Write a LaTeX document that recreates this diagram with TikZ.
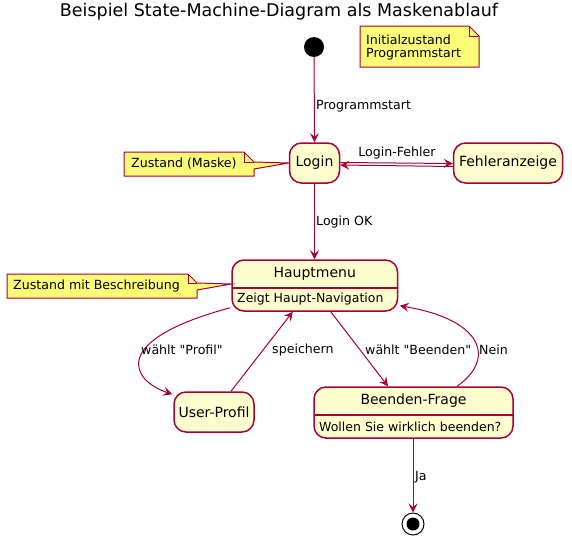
\documentclass[tikz,border=0pt]{standalone}
\usepackage{fontspec}
\setmainfont{DejaVu Sans}
\newfontfamily\plainfont{DejaVu Sans}
\usetikzlibrary{arrows.meta,calc}
\definecolor{pbord}{HTML}{A80036}
\definecolor{pstate}{HTML}{FEFECE}
\definecolor{pnote}{HTML}{FBFB77}
\begin{document}
\begin{tikzpicture}[x=1pt,y=-1pt,
 statebox/.style={draw=pbord,fill=pstate,line width=1.5pt,rounded corners=12pt,inner sep=0pt,font=\fontsize{14}{16}\selectfont},
 trans/.style={draw=pbord,line width=1pt,-{Stealth[length=9pt,width=9pt,inset=3.5pt]}},
 lbl/.style={inner sep=0pt,anchor=west,font=\plainfont\fontsize{12.6}{15}\selectfont},
 notebox/.style={draw=pbord,fill=pnote,line width=1pt,line join=miter},
 notetext/.style={inner sep=0pt,anchor=west,font=\fontsize{12.6}{15}\selectfont},
 desc/.style={inner sep=0pt,anchor=west,font=\fontsize{12.5}{15}\selectfont},
 sep/.style={draw=pbord,line width=1.2pt}]
\useasboundingbox (0,0) rectangle (572,544);

% title
\node[font=\fontsize{17.5}{20}\selectfont,inner sep=0pt] (title) at (279,12) {Beispiel State-Machine-Diagram als Maskenablauf};

% initial and final
\node[circle,fill=black,minimum size=20pt,inner sep=0pt] (init) at (314,47) {};
\node[circle,draw=black,line width=1pt,fill=white,minimum size=22pt,inner sep=0pt] (final) at (413,524) {};
\fill[black] (final.center) circle[radius=6.5pt];

% states
\node[statebox,minimum width=50pt,minimum height=40pt] (login) at (314.5,163) {Login};
\node[statebox,minimum width=109pt,minimum height=40pt] (fehler) at (508,163) {Fehleranzeige};
\node[statebox,minimum width=165.5pt,minimum height=51pt] (haupt) at (314.75,285.5) {};
\draw[sep] (232,288) -- (397.5,288);
\node[inner sep=0pt,font=\fontsize{14}{16}\selectfont] (hauptt) at (314.75,274) {Hauptmenu};
\node[desc] (hauptd) at (237,299) {Zeigt Haupt-Navigation};
\node[statebox,minimum width=80pt,minimum height=40pt] (user) at (214,412) {User-Profil};
\node[statebox,minimum width=199pt,minimum height=51pt] (beenden) at (413.5,412.5) {};
\draw[sep] (314,415) -- (513,415);
\node[inner sep=0pt,font=\fontsize{14}{16}\selectfont] (beendent) at (413.5,401) {Beenden-Frage};
\node[desc] (beendend) at (319,426.5) {Wollen Sie wirklich beenden?};

% notes
\draw[notebox] (360,26) -- (469,26) -- (479,36) -- (479,67) -- (360,67) -- cycle;
\draw[pbord,line width=1pt] (469,26) -- (469,36) -- (479,36);
\node[notetext] (n1a) at (366,40) {Initialzustand};
\node[notetext] (n1b) at (366,54) {Programmstart};

\draw[notebox] (124,152) -- (244,152) -- (254,162) -- (login.west) -- (254,169) -- (254,176) -- (124,176) -- cycle;
\draw[pbord,line width=1pt] (244,152) -- (244,162) -- (254,162);
\node[notetext] (n2) at (131,164) {Zustand (Maske)};

\draw[notebox] (7,274) -- (188,274) -- (197,283) -- ($(haupt.west)+(0,-1.5)$) -- (197,290) -- (197,298) -- (7,298) -- cycle;
\draw[pbord,line width=1pt] (188,274) -- (188,283) -- (197,283);
\node[notetext] (n3) at (13,286) {Zustand mit Beschreibung};

% transitions
\draw[trans] (init) -- (login.north);
\draw[trans] ($(login.east)+(0,-0.5)$) -- ($(fehler.west)+(0,0.5)$);
\draw[trans] ($(fehler.west)+(0,3.5)$) -- ($(login.east)+(0,2)$);
\draw[trans] (login.south) -- (login.south |- haupt.north);
\draw[trans] ($(haupt.south west)+(-1,-4)$) .. controls (110,340) and (130,380) .. ($(user.north west)+(-1,3)$);
\draw[trans] ($(user.north)+(17,0)$) -- ($(haupt.south)+(-22,0)$);
\draw[trans] ($(haupt.south)+(16,0)$) -- ($(beenden.north)+(-25.5,0)$);
\draw[trans] ($(beenden.north)+(43.5,0)$) .. controls (495,360) and (485,320) .. ($(haupt.south east)+(1.5,-6)$);
\draw[trans] (beenden.south -| final) -- (final);

% labels
\node[lbl] (l1) at (316,106) {Programmstart};
\node[lbl,anchor=center] (l2) at (397,153) {Login-Fehler};
\node[lbl] (l3) at (316,222) {Login OK};
\node[lbl] (l4) at (141,350) {wählt "Profil"};
\node[lbl] (l5) at (272,350) {speichern};
\node[lbl] (l6) at (365,350) {wählt "Beenden"};
\node[lbl] (l7) at (479,350) {Nein};
\node[lbl] (l8) at (415,477) {Ja};
\end{tikzpicture}
\end{document}
